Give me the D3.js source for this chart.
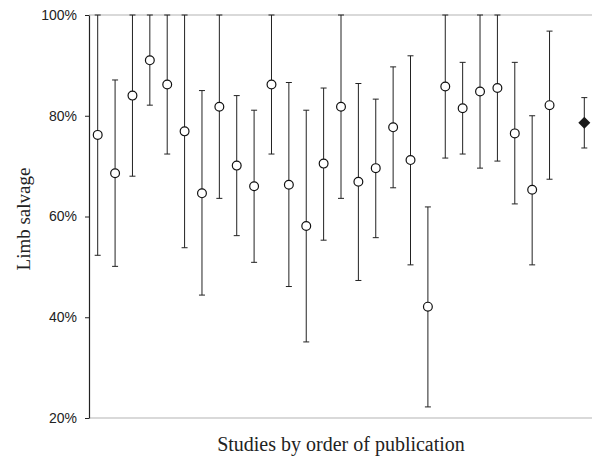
<!DOCTYPE html>
<html>
<head>
<meta charset="utf-8">
<script src="https://cdn.jsdelivr.net/npm/d3@7"></script>
<style>
  body { margin: 0; background: #fff; }
  svg { display: block; }
</style>
</head>
<body>
<svg class="forest" width="592" height="457"></svg>
<script>
// limb salvage (%) per study, in order of publication
let studies = d3.range(1, 28);
let estimate = [76.2, 68.6, 84.0, 91.0, 86.2, 76.9, 64.6, 81.8, 70.1, 66.0,
                86.2, 66.3, 58.1, 70.5, 81.8, 66.9, 69.6, 77.7, 71.2, 42.1,
                85.8, 81.5, 84.8, 85.5, 76.5, 65.3, 82.1];
let lower    = [52.3, 50.1, 68.0, 82.1, 72.4, 53.8, 44.4, 63.6, 56.2, 50.9,
                72.4, 46.1, 35.1, 55.3, 63.6, 47.3, 55.8, 65.7, 50.4, 22.2,
                71.6, 72.4, 69.6, 71.0, 62.5, 50.4, 67.4];
let upper    = [100, 87.1, 100, 100, 100, 100, 85.0, 100, 84.0, 81.1,
                100, 86.6, 81.1, 85.5, 100, 86.4, 83.3, 89.7, 91.9, 61.9,
                100, 90.6, 100, 100, 90.6, 80.0, 96.8];
// pooled estimate, drawn one slot after a gap
let pooled = {est: 78.6, lo: 73.6, hi: 83.6};
let yTicks = [20, 40, 60, 80, 100];

let svg = d3.select(".forest");

let margin = {top: 15, right: 0, bottom: 39, left: 89};
let width = 592, height = 457;

// slot 0..26 are studies, 27 is empty, 28 is pooled
let x = d3.scaleLinear()
  .domain([0, 28])
  .range([97.7, 584.3]);

let y = d3.scaleLinear()
  .domain([20, 100])
  .range([height - margin.bottom, margin.top]);

// frame lines top and bottom
svg.append("line")
  .attr("x1", margin.left).attr("x2", width)
  .attr("y1", y(100)).attr("y2", y(100))
  .attr("stroke", "#b4b4b4").attr("stroke-width", 1.2);
svg.append("line")
  .attr("x1", margin.left).attr("x2", width)
  .attr("y1", y(20)).attr("y2", y(20))
  .attr("stroke", "#b4b4b4").attr("stroke-width", 1.2);

let yAxis = d3.axisLeft(y)
  .tickValues(yTicks)
  .tickFormat(d => d + "%")
  .tickSize(4)
  .tickPadding(8)
  .tickSizeOuter(0);

let yGroup = svg.append("g")
  .attr("transform", translate(margin.left, 0))
  .call(yAxis);
yGroup.select(".domain").attr("stroke", "#222").attr("stroke-width", 1.2);
yGroup.selectAll(".tick line").attr("stroke", "#222");
yGroup.selectAll("text")
  .attr("font-family", "'Liberation Sans', Arial, sans-serif")
  .attr("font-size", 14)
  .attr("fill", "#222");

let rows = studies.map((s, i) => ({slot: i, est: estimate[i], lo: lower[i], hi: upper[i]}));

let bars = svg.append("g").attr("stroke", "#222").attr("stroke-width", 1);

let capHalf = 3;
let drawBar = function(g, d) {
  g.append("line")
    .attr("x1", x(d.slot)).attr("x2", x(d.slot))
    .attr("y1", y(d.lo)).attr("y2", y(d.hi));
  g.append("line")
    .attr("x1", x(d.slot) - capHalf).attr("x2", x(d.slot) + capHalf)
    .attr("y1", y(d.lo)).attr("y2", y(d.lo));
  g.append("line")
    .attr("x1", x(d.slot) - capHalf).attr("x2", x(d.slot) + capHalf)
    .attr("y1", y(d.hi)).attr("y2", y(d.hi));
};

rows.forEach(d => drawBar(bars, d));
let pooledRow = {slot: 28, est: pooled.est, lo: pooled.lo, hi: pooled.hi};
drawBar(bars, pooledRow);

svg.append("g").selectAll("circle")
  .data(rows)
  .join("circle")
    .attr("cx", d => x(d.slot))
    .attr("cy", d => y(d.est))
    .attr("r", 4.4)
    .attr("fill", "#fff")
    .attr("stroke", "#111")
    .attr("stroke-width", 1.2);

// pooled diamond
let dw = 6, dh = 6;
let px = x(pooledRow.slot), py = y(pooledRow.est);
svg.append("path")
  .attr("d", `M${px},${py - dh} L${px + dw},${py} L${px},${py + dh} L${px - dw},${py} Z`)
  .attr("fill", "#1a1a1a");

// axis titles
svg.append("text")
  .attr("x", 341)
  .attr("y", 451)
  .attr("text-anchor", "middle")
  .attr("font-family", "'Liberation Serif', 'Times New Roman', serif")
  .attr("font-size", 20)
  .attr("fill", "#222")
  .text("Studies by order of publication");

svg.append("text")
  .attr("transform", "rotate(-90)")
  .attr("x", -219)
  .attr("y", 30)
  .attr("text-anchor", "middle")
  .attr("font-family", "'Liberation Serif', 'Times New Roman', serif")
  .attr("font-size", 19)
  .attr("fill", "#222")
  .text("Limb salvage");

function translate(x, y) {
  return 'translate(' + x + ',' + y + ')';
}
</script>
</body>
</html>
